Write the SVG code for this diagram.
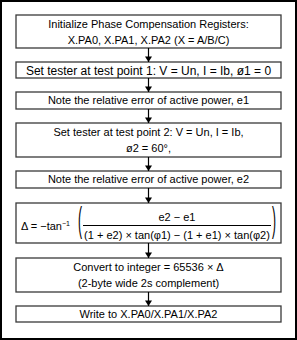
<svg xmlns="http://www.w3.org/2000/svg" width="297" height="340" viewBox="0 0 297 340">
<defs>
<style>
.box{fill:#fff;stroke:#3a3a3a;stroke-width:1.3}
.t{font-family:"Liberation Sans",Arial,sans-serif;font-size:11px;fill:#000;text-anchor:middle}
.p{font-family:"Liberation Sans",Arial,sans-serif;font-size:12px;fill:#000}
.c{stroke:#000;stroke-width:1.2;fill:none}
</style>
<marker id="ah" viewBox="0 0 8 10" refX="8" refY="5" markerWidth="6" markerHeight="7" markerUnits="userSpaceOnUse" orient="auto"><path d="M0,0 L8,5 L0,10 Z" fill="#000"/></marker>
</defs>
<rect x="1" y="1" width="295" height="338" fill="#fff" stroke="#000" stroke-width="2"/>
<g id="n1"><rect class="box" x="16" y="15" width="265" height="33"/>
<text class="t" x="148.5" y="28">Initialize Phase Compensation Registers:</text>
<text class="t" x="148.5" y="44">X.PA0, X.PA1, X.PA2 (X = A/B/C)</text></g>
<g id="n2"><rect class="box" x="16" y="62" width="265" height="16"/>
<text class="t" x="148.5" y="74.5" style="font-size:12px">Set tester at test point 1: V = Un, I = Ib, ø1 = 0</text></g>
<g id="n3"><rect class="box" x="16" y="92" width="265" height="17"/>
<text class="t" x="148.5" y="104">Note the relative error of active power, e1</text></g>
<g id="n4"><rect class="box" x="16" y="123" width="265" height="34"/>
<text class="t" x="148.5" y="136">Set tester at test point 2: V = Un, I = Ib,</text>
<text class="t" x="148.5" y="152">ø2 = 60°,</text></g>
<g id="n5"><rect class="box" x="16" y="171" width="265" height="17"/>
<text class="t" x="148.5" y="183">Note the relative error of active power, e2</text></g>
<g id="n6"><rect class="box" x="16" y="203" width="265" height="40"/>
<text class="t" x="21" y="230" style="text-anchor:start">Δ = −tan<tspan dy="-4" font-size="7">−1</tspan></text>
<text class="p" transform="translate(78,232) scale(1,2.9)">(</text>
<text class="p" transform="translate(272,232) scale(1,2.9)">)</text>
<text class="t" x="177" y="221">e2 − e1</text>
<line x1="83" y1="225.5" x2="271" y2="225.5" stroke="#000" stroke-width="1"/>
<text class="t" x="177" y="239">(1 + e2) × tan(φ1) − (1 + e1) × tan(φ2)</text></g>
<g id="n7"><rect class="box" x="16" y="258" width="265" height="34"/>
<text class="t" x="148.5" y="271">Convert to integer = 65536 × Δ</text>
<text class="t" x="148.5" y="287">(2-byte wide 2s complement)</text></g>
<g id="n8"><rect class="box" x="16" y="306" width="265" height="16"/>
<text class="t" x="148.5" y="318">Write to X.PA0/X.PA1/X.PA2</text></g>
<g id="connectors">
<line class="c" x1="148.5" y1="48" x2="148.5" y2="62" marker-end="url(#ah)"/>
<line class="c" x1="148.5" y1="78" x2="148.5" y2="92" marker-end="url(#ah)"/>
<line class="c" x1="148.5" y1="109" x2="148.5" y2="123" marker-end="url(#ah)"/>
<line class="c" x1="148.5" y1="157" x2="148.5" y2="171" marker-end="url(#ah)"/>
<line class="c" x1="148.5" y1="188" x2="148.5" y2="203" marker-end="url(#ah)"/>
<line class="c" x1="148.5" y1="243" x2="148.5" y2="258" marker-end="url(#ah)"/>
<line class="c" x1="148.5" y1="292" x2="148.5" y2="306" marker-end="url(#ah)"/>
</g>
</svg>
